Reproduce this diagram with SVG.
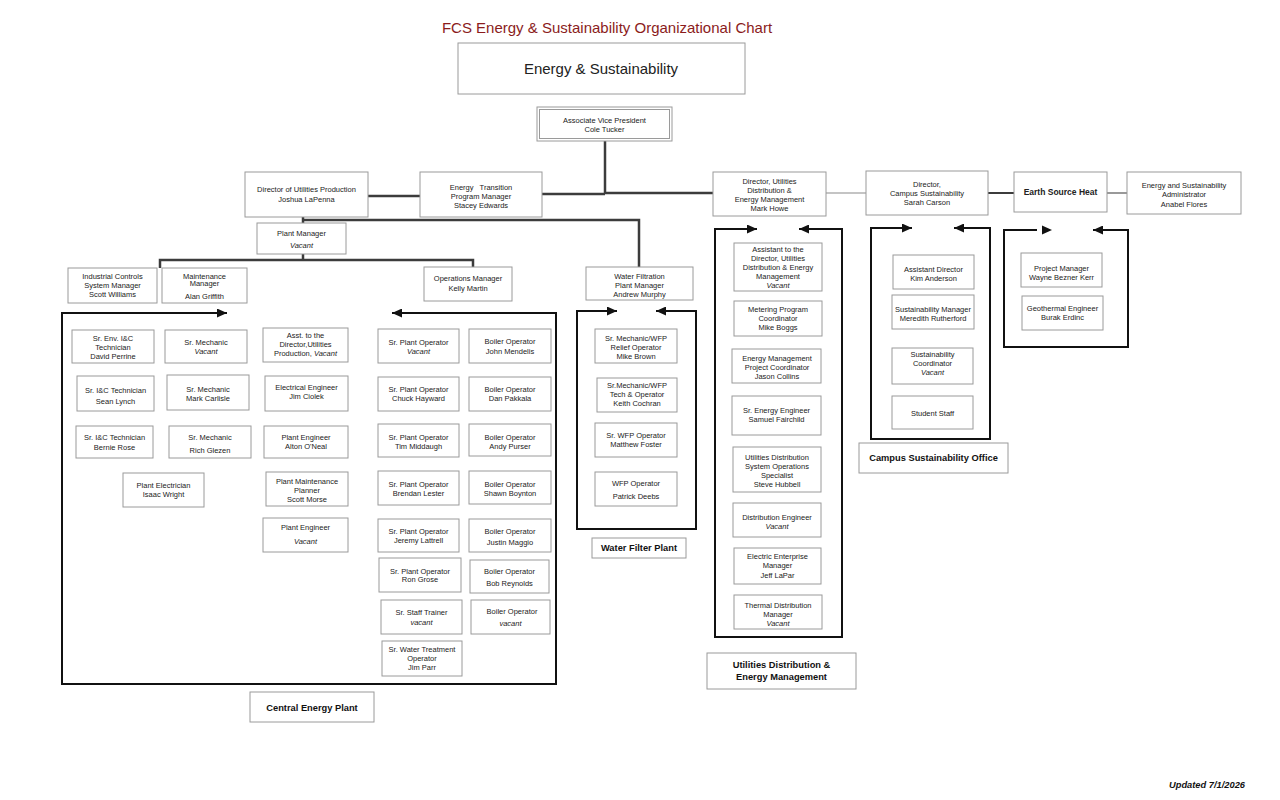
<svg xmlns="http://www.w3.org/2000/svg" width="1280" height="800" viewBox="0 0 1280 800">
<defs>
<style>
text{font-family:"Liberation Sans",Arial,sans-serif;fill:#222}
.t{font-size:7.5px;text-anchor:middle}
.i{font-style:italic}
.lb{font-size:9.3px;font-weight:bold;text-anchor:middle;fill:#111}
.bx{fill:#fff;stroke:#9a9a9a;stroke-width:1}
.cn{fill:none;stroke:#3c3c3c;stroke-width:2.5}
.thin{fill:none;stroke:#8a8a8a;stroke-width:1.2}
.br{fill:none;stroke:#111;stroke-width:2}
</style>
<marker id="ah" viewBox="0 0 10 9" refX="10" refY="4.5" markerWidth="10" markerHeight="9" markerUnits="userSpaceOnUse" orient="auto-start-reverse">
<path d="M0,0 L10,4.5 L0,9 z" fill="#111"/>
</marker>
</defs>
<rect width="1280" height="800" fill="#fff"/>

<text x="607" y="33" style="font-size:15px;text-anchor:middle;fill:#8b1c1c">FCS Energy &amp; Sustainability Organizational Chart</text>

<g id="connectors">
<path class="cn" d="M605,141 V194"/>
<path class="cn" d="M542,194 H605"/>
<path class="cn" d="M605,193 H713"/>
<path class="cn" d="M368,196 H420"/>
<path class="cn" d="M303,217 V223"/>
<path class="cn" d="M303,220 H639 V267"/>
<path class="cn" d="M303,254 V260"/>
<path class="cn" d="M160,268 V260 H473 V267"/>
<path class="thin" d="M307,223 V248" style="stroke:#c8c8c8;stroke-width:1"/>
<path class="thin" d="M826,193 H866"/>
<path class="cn" d="M988,193 H1014" style="stroke-width:2"/>
<path class="thin" d="M1107,193 H1127" style="stroke:#777;stroke-width:1.5"/>
<path class="br" d="M227,313 H62 V684 H556 V313 H392" marker-start="url(#ah)" marker-end="url(#ah)"/>
<path class="br" d="M617,311 H577 V529 H696 V311 H656" marker-start="url(#ah)" marker-end="url(#ah)"/>
<path class="br" d="M757,229 H715 V637 H842 V229 H799" marker-start="url(#ah)" marker-end="url(#ah)"/>
<path class="br" d="M912,228 H871 V439 H990 V228 H954" marker-start="url(#ah)" marker-end="url(#ah)"/>
<path class="br" d="M1037,230 H1004 V347 H1128 V230 H1093" marker-end="url(#ah)"/>
<path d="M1042,225.5 L1052,230 L1042,234.5 z" fill="#111"/>
</g>

<g id="n-top">
<rect class="bx" x="458" y="43" width="287" height="51"/>
<text x="601" y="74" style="font-size:15px;text-anchor:middle">Energy &amp; Sustainability</text>
</g>
<g id="n-avp">
<rect class="bx" x="537" y="107" width="135" height="34"/>
<rect class="bx" x="539.5" y="109.5" width="130" height="29"/>
<text class="t" x="604.5" y="122.5">Associate Vice President</text>
<text class="t" x="604.5" y="131.5">Cole Tucker</text>
</g>
<g id="n-dup">
<rect class="bx" x="245" y="172" width="123" height="45"/>
<text class="t" x="306.5" y="192">Director of Utilities Production</text>
<text class="t" x="306.5" y="201.5">Joshua LaPenna</text>
</g>
<g id="n-etp">
<rect class="bx" x="420" y="172" width="122" height="45"/>
<text class="t" x="481" y="189.5" xml:space="preserve">Energy   Transition</text>
<text class="t" x="481" y="198.5">Program Manager</text>
<text class="t" x="481" y="207.5">Stacey Edwards</text>
</g>
<g id="n-pm">
<rect class="bx" x="257" y="223" width="89" height="31"/>
<text class="t" x="301.5" y="236">Plant Manager</text>
<text class="t i" x="301.5" y="247.5">Vacant</text>
</g>
<g id="n-ind">
<rect class="bx" x="68" y="268" width="89" height="35"/>
<text class="t" x="112.5" y="278.5">Industrial Controls</text>
<text class="t" x="112.5" y="287.5">System Manager</text>
<text class="t" x="112.5" y="296.5">Scott Williams</text>
</g>
<g id="n-maint">
<rect class="bx" x="162" y="268" width="85" height="35"/>
<text class="t" x="204.5" y="278.5">Maintenance</text>
<text class="t" x="204.5" y="285.5">Manager</text>
<text class="t" x="204.5" y="298.5">Alan Griffith</text>
</g>
<g id="n-ops">
<rect class="bx" x="424" y="267" width="88" height="34"/>
<text class="t" x="468" y="280.5">Operations Manager</text>
<text class="t" x="468" y="290.5">Kelly Martin</text>
</g>

<g id="n-env">
<rect class="bx" x="72" y="330" width="82" height="33"/>
<text class="t" x="113" y="340.5">Sr. Env. I&amp;C</text>
<text class="t" x="113" y="349.5">Technician</text>
<text class="t" x="113" y="358.5">David Perrine</text>
</g>
<g id="n-mech1">
<rect class="bx" x="165" y="330" width="82" height="33"/>
<text class="t" x="206" y="344.5">Sr. Mechanic</text>
<text class="t i" x="206" y="353.5">Vacant</text>
</g>
<g id="n-asst">
<rect class="bx" x="263" y="328" width="85" height="34"/>
<text class="t" x="305.5" y="337.5">Asst. to the</text>
<text class="t" x="305.5" y="346.5">Director,Utilities</text>
<text class="t" x="305.5" y="355.5">Production, <tspan class="i">Vacant</tspan></text>
</g>
<g id="n-ic1">
<rect class="bx" x="77" y="376" width="77" height="35"/>
<text class="t" x="115.5" y="392.5">Sr. I&amp;C Technician</text>
<text class="t" x="115.5" y="403.5">Sean Lynch</text>
</g>
<g id="n-mech2">
<rect class="bx" x="167" y="375" width="82" height="35"/>
<text class="t" x="208" y="391.5">Sr. Mechanic</text>
<text class="t" x="208" y="400.5">Mark Carlisle</text>
</g>
<g id="n-elec">
<rect class="bx" x="265" y="376" width="83" height="35"/>
<text class="t" x="306.5" y="389.5">Electrical Engineer</text>
<text class="t" x="306.5" y="398.5">Jim Ciolek</text>
</g>
<g id="n-ic2">
<rect class="bx" x="76" y="426" width="77" height="32"/>
<text class="t" x="114.5" y="439.5">Sr. I&amp;C Technician</text>
<text class="t" x="114.5" y="449.5">Bernie Rose</text>
</g>
<g id="n-mech3">
<rect class="bx" x="169" y="426" width="82" height="32"/>
<text class="t" x="210" y="439.5">Sr. Mechanic</text>
<text class="t" x="210" y="452.5">Rich Glezen</text>
</g>
<g id="n-pe1">
<rect class="bx" x="264" y="426" width="84" height="32"/>
<text class="t" x="306" y="439.5">Plant Engineer</text>
<text class="t" x="306" y="448.5">Alton O'Neal</text>
</g>
<g id="n-elc">
<rect class="bx" x="123" y="473" width="81" height="34"/>
<text class="t" x="163.5" y="487.5">Plant Electrician</text>
<text class="t" x="163.5" y="496.5">Isaac Wright</text>
</g>
<g id="n-pmp">
<rect class="bx" x="266" y="472" width="82" height="34"/>
<text class="t" x="307" y="483.5">Plant Maintenance</text>
<text class="t" x="307" y="492.5">Planner</text>
<text class="t" x="307" y="501.5">Scott Morse</text>
</g>
<g id="n-pe2">
<rect class="bx" x="263" y="518" width="85" height="34"/>
<text class="t" x="305.5" y="529.5">Plant Engineer</text>
<text class="t i" x="305.5" y="543.5">Vacant</text>
</g>

<g id="n-spo1">
<rect class="bx" x="378" y="329" width="81" height="34"/>
<text class="t" x="418.5" y="344.5">Sr. Plant Operator</text>
<text class="t i" x="418.5" y="353.5">Vacant</text>
</g>
<g id="n-bo1">
<rect class="bx" x="469" y="329" width="82" height="34"/>
<text class="t" x="510" y="343.5">Boiler Operator</text>
<text class="t" x="510" y="353.5">John Mendelis</text>
</g>
<g id="n-spo2">
<rect class="bx" x="378" y="377" width="81" height="34"/>
<text class="t" x="418.5" y="391.5">Sr. Plant Operator</text>
<text class="t" x="418.5" y="400.5">Chuck Hayward</text>
</g>
<g id="n-bo2">
<rect class="bx" x="469" y="377" width="82" height="34"/>
<text class="t" x="510" y="391.5">Boiler Operator</text>
<text class="t" x="510" y="400.5">Dan Pakkala</text>
</g>
<g id="n-spo3">
<rect class="bx" x="378" y="424" width="81" height="33"/>
<text class="t" x="418.5" y="439.5">Sr. Plant Operator</text>
<text class="t" x="418.5" y="448.5">Tim Middaugh</text>
</g>
<g id="n-bo3">
<rect class="bx" x="469" y="424" width="82" height="32"/>
<text class="t" x="510" y="439.5">Boiler Operator</text>
<text class="t" x="510" y="448.5">Andy Purser</text>
</g>
<g id="n-spo4">
<rect class="bx" x="378" y="471" width="81" height="34"/>
<text class="t" x="418.5" y="486.5">Sr. Plant Operator</text>
<text class="t" x="418.5" y="495.5">Brendan Lester</text>
</g>
<g id="n-bo4">
<rect class="bx" x="469" y="471" width="82" height="33"/>
<text class="t" x="510" y="486.5">Boiler Operator</text>
<text class="t" x="510" y="495.5">Shawn Boynton</text>
</g>
<g id="n-spo5">
<rect class="bx" x="378" y="519" width="81" height="33"/>
<text class="t" x="418.5" y="533.5">Sr. Plant Operator</text>
<text class="t" x="418.5" y="542.5">Jeremy Lattrell</text>
</g>
<g id="n-bo5">
<rect class="bx" x="469" y="519" width="82" height="33"/>
<text class="t" x="510" y="533.5">Boiler Operator</text>
<text class="t" x="510" y="544.5">Justin Maggio</text>
</g>
<g id="n-spo6">
<rect class="bx" x="379" y="558" width="82" height="34"/>
<text class="t" x="420" y="573.5">Sr. Plant Operator</text>
<text class="t" x="420" y="582">Ron Grose</text>
</g>
<g id="n-bo6">
<rect class="bx" x="470" y="560" width="79" height="33"/>
<text class="t" x="509.5" y="573.5">Boiler Operator</text>
<text class="t" x="509.5" y="585.5">Bob Reynolds</text>
</g>
<g id="n-trainer">
<rect class="bx" x="381" y="600" width="81" height="34"/>
<text class="t" x="421.5" y="614.5">Sr. Staff Trainer</text>
<text class="t i" x="421.5" y="624.5">vacant</text>
</g>
<g id="n-bo7">
<rect class="bx" x="471" y="600" width="79" height="34"/>
<text class="t" x="512" y="613.5">Boiler Operator</text>
<text class="t i" x="510.5" y="625.5">vacant</text>
</g>
<g id="n-swt">
<rect class="bx" x="382" y="641" width="80" height="35"/>
<text class="t" x="422" y="651.5">Sr. Water Treatment</text>
<text class="t" x="422" y="660.5">Operator</text>
<text class="t" x="422" y="669.5">Jim Parr</text>
</g>
<g id="n-cep-label">
<rect class="bx" x="250" y="692" width="124" height="30"/>
<text class="lb" x="312" y="710.5">Central Energy Plant</text>
</g>

<g id="n-wfm">
<rect class="bx" x="586" y="267" width="107" height="33"/>
<text class="t" x="639.5" y="278.5">Water Filtration</text>
<text class="t" x="639.5" y="287.5">Plant Manager</text>
<text class="t" x="639.5" y="296.5">Andrew Murphy</text>
</g>
<g id="n-wf1">
<rect class="bx" x="595" y="329" width="82" height="34"/>
<text class="t" x="636" y="340.5">Sr. Mechanic/WFP</text>
<text class="t" x="636" y="349.5">Relief Operator</text>
<text class="t" x="636" y="358.5">Mike Brown</text>
</g>
<g id="n-wf2">
<rect class="bx" x="597" y="378" width="80" height="34"/>
<text class="t" x="637" y="387.5">Sr.Mechanic/WFP</text>
<text class="t" x="637" y="396.5">Tech &amp; Operator</text>
<text class="t" x="637" y="405.5">Keith Cochran</text>
</g>
<g id="n-wf3">
<rect class="bx" x="595" y="423" width="82" height="34"/>
<text class="t" x="636" y="437.5">Sr. WFP Operator</text>
<text class="t" x="636" y="446.5">Matthew Foster</text>
</g>
<g id="n-wf4">
<rect class="bx" x="595" y="472" width="82" height="34"/>
<text class="t" x="636" y="485.5">WFP Operator</text>
<text class="t" x="636" y="498.5">Patrick Deebs</text>
</g>
<g id="n-wfp-label">
<rect class="bx" x="592" y="538" width="94" height="20"/>
<text class="lb" x="639" y="551">Water Filter Plant</text>
</g>

<g id="n-dud">
<rect class="bx" x="713" y="172" width="113" height="44"/>
<text class="t" x="769.5" y="183.5">Director, Utilities</text>
<text class="t" x="769.5" y="192.5">Distribution &amp;</text>
<text class="t" x="769.5" y="201.5">Energy Management</text>
<text class="t" x="769.5" y="210.5">Mark Howe</text>
</g>
<g id="n-ua1">
<rect class="bx" x="734" y="243" width="88" height="48"/>
<text class="t" x="778" y="251.5">Assistant to the</text>
<text class="t" x="778" y="260.5">Director, Utilities</text>
<text class="t" x="778" y="269.5">Distribution &amp; Energy</text>
<text class="t" x="778" y="278.5">Management</text>
<text class="t i" x="778" y="287.5">Vacant</text>
</g>
<g id="n-ua2">
<rect class="bx" x="734" y="301" width="88" height="35"/>
<text class="t" x="778" y="311.5">Metering Program</text>
<text class="t" x="778" y="320.5">Coordinator</text>
<text class="t" x="778" y="329.5">Mike Boggs</text>
</g>
<g id="n-ua3">
<rect class="bx" x="732" y="349" width="89" height="34"/>
<text class="t" x="777" y="360.5">Energy Management</text>
<text class="t" x="777" y="369.5">Project Coordinator</text>
<text class="t" x="777" y="378.5">Jason Collins</text>
</g>
<g id="n-ua4">
<rect class="bx" x="732" y="396" width="89" height="39"/>
<text class="t" x="776.5" y="412.5">Sr. Energy Engineer</text>
<text class="t" x="776.5" y="421.5">Samuel Fairchild</text>
</g>
<g id="n-ua5">
<rect class="bx" x="733" y="447" width="88" height="45"/>
<text class="t" x="777" y="459.5">Utilities Distribution</text>
<text class="t" x="777" y="468.5">System Operations</text>
<text class="t" x="777" y="477.5">Specialist</text>
<text class="t" x="777" y="486.5">Steve Hubbell</text>
</g>
<g id="n-ua6">
<rect class="bx" x="733" y="503" width="88" height="34"/>
<text class="t" x="777" y="519.5">Distribution Engineer</text>
<text class="t i" x="777" y="528.5">Vacant</text>
</g>
<g id="n-ua7">
<rect class="bx" x="734" y="548" width="87" height="36"/>
<text class="t" x="777.5" y="558.5">Electric Enterprise</text>
<text class="t" x="777.5" y="568">Manager</text>
<text class="t" x="777.5" y="577.5">Jeff LaPar</text>
</g>
<g id="n-ua8">
<rect class="bx" x="734" y="595" width="88" height="34"/>
<text class="t" x="778" y="607.5">Thermal Distribution</text>
<text class="t" x="778" y="616.5">Manager</text>
<text class="t i" x="778" y="625.5">Vacant</text>
</g>
<g id="n-ude-label">
<rect class="bx" x="707" y="653" width="149" height="36"/>
<text class="lb" x="781.5" y="667.5">Utilities Distribution &amp;</text>
<text class="lb" x="781.5" y="679.5">Energy Management</text>
</g>

<g id="n-dcs">
<rect class="bx" x="866" y="171" width="122" height="44"/>
<text class="t" x="927" y="186.5">Director,</text>
<text class="t" x="927" y="195.5">Campus Sustainability</text>
<text class="t" x="927" y="204.5">Sarah Carson</text>
</g>
<g id="n-cs1">
<rect class="bx" x="893" y="255" width="81" height="34"/>
<text class="t" x="933.5" y="271.5">Assistant Director</text>
<text class="t" x="933.5" y="280.5">Kim Anderson</text>
</g>
<g id="n-cs2">
<rect class="bx" x="892" y="295" width="82" height="34"/>
<text class="t" x="933" y="311.5">Sustainability Manager</text>
<text class="t" x="933" y="320.5">Meredith Rutherford</text>
</g>
<g id="n-cs3">
<rect class="bx" x="892" y="348" width="81" height="36"/>
<text class="t" x="932.5" y="356.5">Sustainability</text>
<text class="t" x="932.5" y="365.5">Coordinator</text>
<text class="t i" x="932.5" y="374.5">Vacant</text>
</g>
<g id="n-cs4">
<rect class="bx" x="892" y="396" width="81" height="33"/>
<text class="t" x="932.5" y="415.5">Student Staff</text>
</g>
<g id="n-cso-label">
<rect class="bx" x="859" y="443" width="149" height="30"/>
<text class="lb" x="933.5" y="461">Campus Sustainability Office</text>
</g>

<g id="n-esh">
<rect class="bx" x="1014" y="172" width="93" height="40"/>
<text x="1060.5" y="195" style="font-size:8.5px;font-weight:bold;text-anchor:middle">Earth Source Heat</text>
</g>
<g id="n-esh1">
<rect class="bx" x="1021" y="253" width="81" height="34"/>
<text class="t" x="1061.5" y="270.5">Project Manager</text>
<text class="t" x="1061.5" y="279.5">Wayne Bezner Kerr</text>
</g>
<g id="n-esh2">
<rect class="bx" x="1022" y="296" width="81" height="34"/>
<text class="t" x="1062.5" y="310.5">Geothermal Engineer</text>
<text class="t" x="1062.5" y="319.5">Burak Erdinc</text>
</g>
<g id="n-admin">
<rect class="bx" x="1127" y="172" width="114" height="42"/>
<text class="t" x="1184" y="187.5">Energy and Sustainability</text>
<text class="t" x="1184" y="196.5">Administrator</text>
<text class="t" x="1184" y="206.5">Anabel Flores</text>
</g>

<text x="1245" y="787.5" style="font-size:9.3px;font-weight:bold;font-style:italic;text-anchor:end;fill:#111">Updated 7/1/2026</text>
</svg>
